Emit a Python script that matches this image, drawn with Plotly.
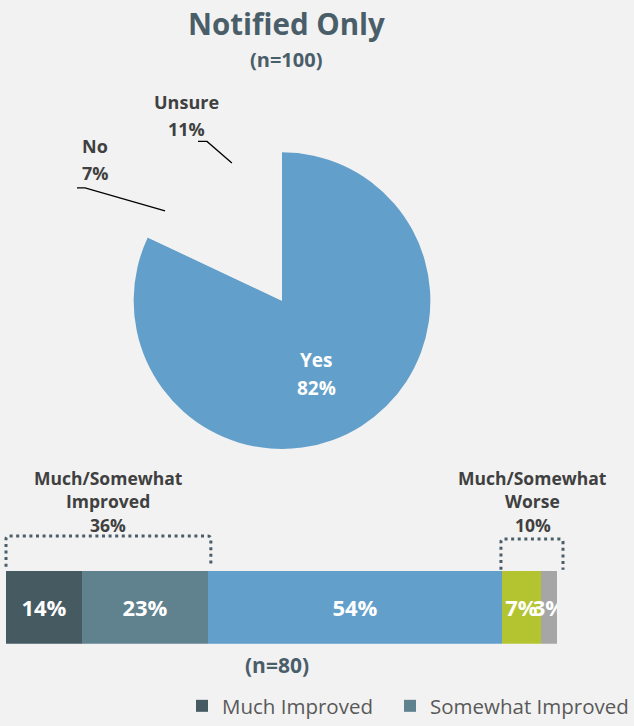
import math
import plotly.graph_objects as go

# ---------------- data ----------------
pie_labels = ["Yes", "No", "Unsure"]
pie_values = [82, 7, 11]

bar_categories = ["Much Improved", "Somewhat Improved", "No Change", "Somewhat Worse", "Much Worse"]
bar_values = [14, 23, 54, 7, 3]

group_improved_label = ["Much/Somewhat", "Improved", "36%"]
group_worse_label = ["Much/Somewhat", "Worse", "10%"]

title_text = "Notified Only"
pie_n_text = "(n=100)"
bar_n_text = "(n=80)"

# ---------------- style ----------------
W, H = 634, 726
BG = "#f2f2f2"
TITLE_C = "#4a5e6a"
LABEL_C = "#404040"
FONT = "Open Sans"
pie_colors = ["#629fca", BG, BG]
bar_colors = ["#465a62", "#60818e", "#629fca", "#b4c430", "#a6a6a6"]

# pie geometry (pixels)
PCX, PCY, PR = 282, 304, 150
# bar geometry (pixels)
BX0, BX1 = 6, 557
BY0, BY1 = 577, 651


def px(x):
    return x / W


def py(y):
    return 1 - y / H


fig = go.Figure()

fig.add_trace(go.Pie(
    labels=pie_labels, values=pie_values, sort=False, direction="clockwise",
    rotation=0,
    marker=dict(colors=pie_colors, line=dict(width=0)),
    domain=dict(x=[px(PCX - PR), px(PCX + PR)], y=[py(PCY + PR), py(PCY - PR)]),
    textinfo="none", hoverinfo="label+percent", showlegend=False,
))

total = sum(bar_values)
legend_of = {"Much Improved": "legend", "Somewhat Improved": "legend2"}
for name, val, col in zip(bar_categories, bar_values, bar_colors):
    fig.add_trace(go.Bar(
        y=[""], x=[val], name=name, orientation="h",
        marker=dict(color=col, line=dict(width=0)),
        text=[f"{val}%"], textposition="inside", insidetextanchor="middle",
        constraintext="none", textangle=0,
        textfont=dict(family=FONT, size=22, color="white", weight="bold"),
        showlegend=name in legend_of,
        legend=legend_of.get(name, "legend"),
        hoverinfo="name+x",
    ))

annotations = []
shapes = []


def text_lines(lines, cx, cy0, spacing, size, color, bold=True):
    for i, t in enumerate(lines):
        annotations.append(dict(
            x=px(cx), y=py(cy0 + i * spacing), xref="paper", yref="paper",
            text=f"<b>{t}</b>" if bold else t, showarrow=False,
            xanchor="center", yanchor="middle",
            font=dict(family=FONT, size=size, color=color)))


# titles
text_lines([title_text], 286, 24, 0, 29.5, TITLE_C)
text_lines([pie_n_text], 286, 60, 0, 20, TITLE_C)

# slice mid angles from data
cum = 0
mids = []
for v in pie_values:
    mids.append((cum + v / 2) / sum(pie_values) * 2 * math.pi)
    cum += v

# "Yes" label inside the big slice
text_lines([pie_labels[0], f"{pie_values[0]}%"], 316, 364, 28, 19, "white")

# outside labels with leader lines
outside = {
    1: dict(label_c=(95, 148), elbow=(85, 190), end=(77, 190)),
    2: dict(label_c=(186, 103), elbow=(207, 143), end=(198, 143)),
}
for idx, o in outside.items():
    lx, ly = o["label_c"]
    text_lines([pie_labels[idx], f"{pie_values[idx]}%"], lx, ly, 27, 18, LABEL_C)
    a = mids[idx]
    ix = PCX + (PR - 2) * math.sin(a)
    iy = PCY - (PR - 2) * math.cos(a)
    ex, ey = o["elbow"]
    nx, ny = o["end"]
    shapes.append(dict(type="path", xref="paper", yref="paper",
                       path=f"M{px(nx)},{py(ny)} L{px(ex)},{py(ey)} L{px(ix)},{py(iy)}",
                       line=dict(color="black", width=1.3)))


# bar brackets
def bx(v):
    return BX0 + v / total * (BX1 - BX0)


def bracket(x0, x1, ytop, ybot):
    r = 3
    path = (f"M{px(x0)},{py(ybot)} L{px(x0)},{py(ytop + r)} "
            f"Q{px(x0)},{py(ytop)} {px(x0 + r)},{py(ytop)} "
            f"L{px(x1 - r)},{py(ytop)} Q{px(x1)},{py(ytop)} {px(x1)},{py(ytop + r)} "
            f"L{px(x1)},{py(ybot)}")
    shapes.append(dict(type="path", xref="paper", yref="paper", path=path,
                       line=dict(color=TITLE_C, width=3, dash="3px,3.6px")))


imp_end = bx(bar_values[0] + bar_values[1])
worse_start = bx(sum(bar_values[:3]))
bracket(bx(0), imp_end + 3, 542, 573)
bracket(worse_start - 1.5, bx(total) + 6, 545, 576)
text_lines(group_improved_label, (bx(0) + imp_end + 3) / 2, 483, 24, 17.5, LABEL_C)
text_lines(group_worse_label, (worse_start - 1.5 + bx(total) + 6) / 2 + 1, 483, 24, 17.5, LABEL_C)

text_lines([bar_n_text], 277, 672, 0, 21, TITLE_C)

legend_style = dict(orientation="h", xanchor="left", yanchor="middle", y=py(714),
                    bgcolor="rgba(0,0,0,0)",
                    font=dict(family=FONT, size=20.5, color="#595959"))

fig.update_layout(
    width=W, height=H, autosize=False,
    margin=dict(l=0, r=0, t=0, b=0),
    paper_bgcolor=BG, plot_bgcolor=BG,
    barmode="stack", bargap=0,
    xaxis=dict(domain=[px(BX0), px(BX1)], range=[0, total], visible=False, fixedrange=True),
    yaxis=dict(domain=[py(BY1), py(BY0)], range=[-0.5, 0.5], visible=False, fixedrange=True),
    legend=dict(x=px(182), **legend_style),
    legend2=dict(x=px(390), **legend_style),
    annotations=annotations, shapes=shapes,
    font=dict(family=FONT),
)

page_fix = (
    "document.documentElement.style.margin='0';document.documentElement.style.overflow='hidden';"
    "document.body.style.margin='0';document.body.style.overflow='hidden';"
    "document.body.style.background='#f2f2f2';"
)

fig.write_html(
    "out.html",
    config={"displayModeBar": False, "responsive": False},
    post_script=page_fix,
)
